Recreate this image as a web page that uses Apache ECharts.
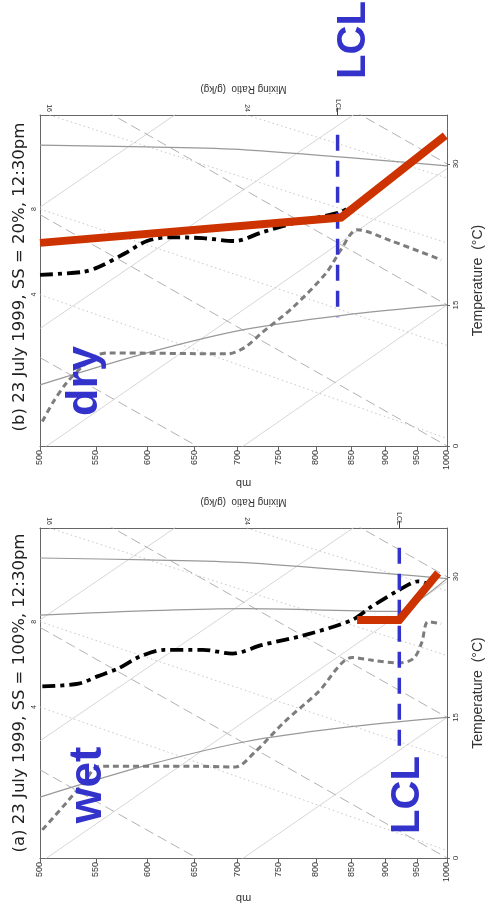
<!DOCTYPE html>
<html>
<head>
<meta charset="utf-8">
<script src="https://cdn.jsdelivr.net/npm/echarts@6/dist/echarts.min.js"></script>
<style>
  html, body { margin: 0; padding: 0; background: #fff; }
  #main { width: 493px; height: 906px; }
</style>
</head>
<body>
<div id="main"></div>
<script>
// Pressure (mb) along x on a log scale, temperature (°C) along y
var pressureTicks = [500, 550, 600, 650, 700, 750, 800, 850, 900, 950, 1000];
var tempTicks = [0, 15, 30];
var T_MAX = 35.2;

// background grid of the diagram, [T at 500 mb, T at 1000 mb]
var isotherms = [[-15, 15], [-0.5, 29.5], [12.5, 42], [25.4, 55]];
var adiabats = [[9.4, -15], [24.6, 0], [39.6, 15], [54.6, 30]];
var mixingLines = [
  [[500, 16.1], [1000, 0.8]],
  [[500, 25.2], [1000, 10.7]],
  [[508, 35.2], [1000, 21.6]],
  [[711, 35.2], [1000, 28.5]]
];
var curveTop = [[500, 32.0], [600, 31.8], [709, 31.5], [1000, 29.8]];
var curveMid = [[500, 25.9], [709, 26.6], [922, 26.3], [960, 27.8], [1000, 29.8]];
var curveLow = [[500, 6.5], [600, 9.9], [709, 12.4], [837, 13.9], [1000, 15.0]];

// (a) wet day
var tempWet = [[502, 18.3], [534, 18.6], [552, 19.4], [571, 20.2], [593, 21.5], [618, 22.2],
  [660, 22.2], [694, 21.8], [729, 22.7], [786, 23.8], [851, 25.4], [877, 26.7], [922, 28.6],
  [952, 29.5], [975, 29.1]];
var dewWet = [[502, 3.0], [523, 5.9], [541, 8.4], [550, 9.7], [562, 9.8], [650, 9.8], [697, 9.7],
  [721, 11.3], [758, 14.5], [803, 17.7], [851, 21.4], [880, 21.1], [922, 20.8], [945, 21.3],
  [958, 23.0], [968, 25.2], [990, 25.0]];
var parcelWet = [[858, 25.4], [922, 25.4], [985, 30.4]];
var lclWet = 922;

// (b) dry day
var tempDry = [[500, 18.2], [537, 18.5], [552, 19.0], [578, 20.5], [600, 21.8], [624, 22.2],
  [660, 22.1], [697, 21.8], [729, 22.7], [770, 23.7], [814, 24.5], [835, 24.9], [845, 25.3]];
var dewDry = [[502, 2.6], [511, 4.6], [523, 6.7], [537, 8.4], [552, 9.7], [562, 9.9], [689, 9.8],
  [709, 10.5], [729, 12.0], [770, 14.8], [814, 18.4], [835, 20.9], [858, 23.0], [910, 21.8],
  [990, 19.8]];
var parcelDry = [[500, 21.6], [835, 24.3], [997, 33.0]];
var lclDry = 830;

var mixTopLabels = [[508, '16'], [711, '24']];
var mixLeftLabels = [[16.1, '4'], [25.2, '8']];

function lp(p) { return Math.log10(p); }
function toXY(arr) { return arr.map(function (d) { return [lp(d[0]), d[1]]; }); }

var chart = echarts.init(document.getElementById('main'));

function bottomAxis(gi, gap) {
  return {
    type: 'value', gridIndex: gi, position: 'bottom', min: lp(500), max: lp(1000),
    axisLine: { show: true, onZero: false, lineStyle: { color: '#666', width: 1 } },
    axisTick: { show: true, length: 5, customValues: pressureTicks.map(lp), lineStyle: { color: '#666' } },
    axisLabel: {
      customValues: pressureTicks.map(lp), rotate: 90, fontSize: 9, color: '#333', margin: 4,
      fontFamily: 'Liberation Sans',
      formatter: function (v) { return String(Math.round(Math.pow(10, v))); }
    },
    splitLine: { show: false },
    name: 'mb', nameLocation: 'middle', nameGap: gap, nameRotate: 180,
    nameTextStyle: { fontSize: 11, color: '#333', fontFamily: 'Liberation Sans' }
  };
}

function topAxis(gi, pLcl) {
  var labels = mixTopLabels.concat([[pLcl, 'LCL']]);
  return {
    type: 'value', gridIndex: gi, position: 'top', min: lp(500), max: lp(1000),
    axisLine: { show: true, onZero: false, lineStyle: { color: '#666', width: 1 } },
    axisTick: { show: true, length: 7, customValues: [lp(pLcl)], lineStyle: { color: '#444' } },
    axisLabel: {
      customValues: labels.map(function (d) { return lp(d[0]); }), rotate: 90, fontSize: 7,
      color: '#333', margin: 3, fontFamily: 'Liberation Sans',
      formatter: function (v) {
        var best = labels[0];
        labels.forEach(function (d) { if (Math.abs(lp(d[0]) - v) < Math.abs(lp(best[0]) - v)) best = d; });
        return best[1];
      }
    },
    splitLine: { show: false },
    name: 'Mixing Ratio  (g/kg)', nameLocation: 'middle', nameGap: 21, nameRotate: 180,
    nameTextStyle: { fontSize: 10, color: '#333', fontFamily: 'Liberation Sans' }
  };
}

function rightAxis(gi) {
  return {
    type: 'value', gridIndex: gi, position: 'right', min: 0, max: T_MAX,
    axisLine: { show: true, onZero: false, lineStyle: { color: '#666', width: 1 } },
    axisTick: { show: true, length: 3, customValues: tempTicks, lineStyle: { color: '#666' } },
    axisLabel: { customValues: tempTicks, rotate: 90, fontSize: 8, color: '#333', margin: 5, fontFamily: 'Liberation Sans' },
    splitLine: { show: false },
    name: 'Temperature  (°C)', nameLocation: 'middle', nameGap: 24, nameRotate: 90,
    nameTextStyle: { fontSize: 14, color: '#333', fontFamily: 'Liberation Sans' }
  };
}

function leftAxis(gi) {
  return {
    type: 'value', gridIndex: gi, position: 'left', min: 0, max: T_MAX,
    axisLine: { show: true, onZero: false, lineStyle: { color: '#666', width: 1 } },
    axisTick: { show: false },
    axisLabel: {
      customValues: mixLeftLabels.map(function (d) { return d[0]; }), rotate: 90, fontSize: 7,
      color: '#333', margin: 2, fontFamily: 'Liberation Sans',
      formatter: function (v) { return v < 20 ? '4' : '8'; }
    },
    splitLine: { show: false }
  };
}

function lineSeries(xi, yi, pts, style, extra) {
  var s = {
    type: 'line', xAxisIndex: xi, yAxisIndex: yi, data: toXY(pts), symbol: 'none',
    silent: true, animation: false, clip: true, lineStyle: style, z: 2
  };
  if (extra) { for (var k in extra) s[k] = extra[k]; }
  return s;
}

function panelSeries(xi, yi, wet, temp, dew, parcel, lcl) {
  var out = [];
  isotherms.forEach(function (d) {
    out.push(lineSeries(xi, yi, [[500, d[0]], [1000, d[1]]], { color: '#cccccc', width: 0.8 }));
  });
  adiabats.forEach(function (d) {
    out.push(lineSeries(xi, yi, [[500, d[0]], [1000, d[1]]], { color: '#a8a8a8', width: 0.9, type: [10, 5] }));
  });
  mixingLines.forEach(function (d) {
    out.push(lineSeries(xi, yi, d, { color: '#b8b8b8', width: 0.8, type: [1.5, 3] }));
  });
  out.push(lineSeries(xi, yi, curveTop, { color: '#999999', width: 1.2 }, { smooth: 0.3 }));
  if (wet) out.push(lineSeries(xi, yi, curveMid, { color: '#999999', width: 1.2 }, { smooth: 0.3 }));
  out.push(lineSeries(xi, yi, curveLow, { color: '#999999', width: 1.2 }, { smooth: 0.3 }));
  out.push(lineSeries(xi, yi, dew, { color: '#7d7d7d', width: 3, type: [6, 4] }, { smooth: 0.3, z: 4 }));
  out.push(lineSeries(xi, yi, temp, { color: '#000', width: 3.8, type: [13, 5, 4, 5] }, { smooth: 0.3, z: 5 }));
  out.push(lineSeries(xi, yi, [[lcl, 33.1], [lcl, wet ? 11.5 : 13.7]],
    { color: '#3333cc', width: 3.5, type: [16, 10] }, { z: 6 }));
  out.push(lineSeries(xi, yi, parcel, { color: '#cc3300', width: 8, cap: 'butt', join: 'miter' }, { z: 7 }));
  return out;
}

function vtext(x, y, text, size, color, weight, family) {
  return {
    type: 'text', x: x, y: y, rotation: Math.PI / 2, z: 100,
    style: {
      text: text, fill: color, fontSize: size, fontWeight: weight || 'normal',
      fontFamily: family || 'DejaVu Sans', align: 'center', verticalAlign: 'middle'
    }
  };
}

var option = {
  backgroundColor: '#ffffff',
  animation: false,
  grid: [
    { left: 40, right: 36, top: 115, height: 331 },
    { left: 40, right: 36, top: 528, height: 330 }
  ],
  xAxis: [bottomAxis(0, 32), topAxis(0, lclDry), bottomAxis(1, 35), topAxis(1, lclWet)],
  yAxis: [rightAxis(0), leftAxis(0), rightAxis(1), leftAxis(1)],
  series: []
    .concat(panelSeries(0, 0, false, tempDry, dewDry, parcelDry, lclDry))
    .concat(panelSeries(2, 2, true, tempWet, dewWet, parcelWet, lclWet)),
  graphic: [
    vtext(20, 277, '(b) 23 July 1999, SS = 20%, 12:30pm', 16.5, '#222'),
    vtext(20, 693, '(a) 23 July 1999, SS = 100%, 12:30pm', 16.5, '#222'),
    vtext(85, 381, 'dry', 45, '#3333cc', 'bold', 'Liberation Sans'),
    vtext(88, 785, 'wet', 46, '#3333cc', 'bold', 'Liberation Sans'),
    vtext(354, 40, 'LCL', 40, '#3333cc', 'bold', 'Liberation Sans'),
    vtext(408, 795, 'LCL', 40, '#3333cc', 'bold', 'Liberation Sans')
  ]
};

chart.setOption(option);
</script>
</body>
</html>
